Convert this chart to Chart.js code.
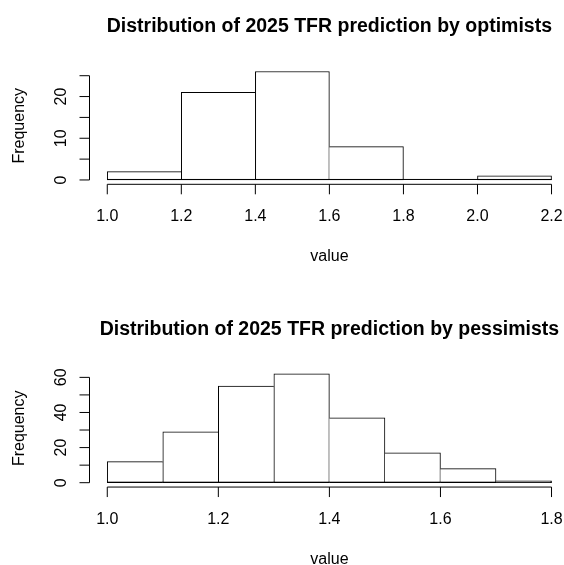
<!DOCTYPE html>
<html>
<head>
<meta charset="utf-8">
<script src="https://cdn.jsdelivr.net/npm/chart.js@4"></script>
<style>
  body { margin: 0; background: #fff; }
  canvas { display: block; }
</style>
</head>
<body>
<canvas id="optimists" width="564" height="282"></canvas>
<canvas id="pessimists" width="564" height="283"></canvas>
<script>
// optimists: bin edges + counts
const optBreaks = [1.0, 1.2, 1.4, 1.6, 1.8, 2.0, 2.2];
const optCounts = [2, 21, 26, 8, 0, 1];
const optXTicks = [1.0, 1.2, 1.4, 1.6, 1.8, 2.0, 2.2];
const optYTicks = [0, 5, 10, 15, 20, 25];
const optYLabels = [0, 10, 20];

// pessimists
const pesBreaks = [1.0, 1.1, 1.2, 1.3, 1.4, 1.5, 1.6, 1.7, 1.8];
const pesCounts = [12, 29, 55, 62, 37, 17, 8, 1];
const pesXTicks = [1.0, 1.2, 1.4, 1.6, 1.8];
const pesYTicks = [0, 10, 20, 30, 40, 50, 60];
const pesYLabels = [0, 20, 40, 60];

const FONT = '"Liberation Sans", Arial, Helvetica, sans-serif';

// R style axes, drawn from the chart's own scales
const rAxes = {
  id: 'rAxes',
  afterDatasetsDraw(chart, args, o) {
    const ctx = chart.ctx, xs = chart.scales.x, ys = chart.scales.y, area = chart.chartArea;
    const px = v => xs.getPixelForValue(v), py = v => ys.getPixelForValue(v);
    const first = o.breaks[0], last = o.breaks[o.breaks.length - 1];
    const midX = (px(o.usr[0]) + px(o.usr[1])) / 2;
    ctx.save();
    ctx.fillStyle = '#000';
    ctx.strokeStyle = '#000';
    ctx.lineWidth = 1;

    // baseline under the bars (zero bins too)
    ctx.fillRect(px(first), py(0) - 1, px(last) - px(first), 1);

    // x axis
    const ax = area.bottom;
    ctx.beginPath();
    ctx.moveTo(px(o.xTicks[0]), ax);
    ctx.lineTo(px(o.xTicks[o.xTicks.length - 1]), ax);
    o.xTicks.forEach(t => { ctx.moveTo(px(t), ax); ctx.lineTo(px(t), ax + 10); });
    // y axis
    const ay = area.left;
    ctx.moveTo(ay, py(o.yTicks[0]));
    ctx.lineTo(ay, py(o.yTicks[o.yTicks.length - 1]));
    o.yTicks.forEach(t => { ctx.moveTo(ay, py(t)); ctx.lineTo(ay - 10, py(t)); });
    ctx.stroke();

    ctx.font = '16px ' + FONT;
    ctx.textAlign = 'center';
    ctx.textBaseline = 'alphabetic';
    o.xTicks.forEach(t => ctx.fillText(t.toFixed(1), px(t), ax + 36.5));
    ctx.fillText('value', midX, ax + 76.7);

    o.yLabels.forEach(t => {
      ctx.save();
      ctx.translate(ay - 23.5, py(t));
      ctx.rotate(-Math.PI / 2);
      ctx.fillText(String(t), 0, 0);
      ctx.restore();
    });
    ctx.save();
    ctx.translate(ay - 65.5, (area.top + area.bottom) / 2);
    ctx.rotate(-Math.PI / 2);
    ctx.fillText('Frequency', 0, 0);
    ctx.restore();

    ctx.font = 'bold 19.5px ' + FONT;
    ctx.fillText(o.title, midX, area.top - 35);
    ctx.restore();
  }
};

function makeHist(id, title, breaks, counts, xTicks, yTicks, yLabels, pad) {
  const centers = counts.map((_, i) => (breaks[i] + breaks[i + 1]) / 2);
  const lo = breaks[0], hi = breaks[breaks.length - 1];
  // R usr range: data range widened by 4% each side
  const usr = [lo - 0.04 * (hi - lo), hi + 0.04 * (hi - lo)];
  const ymax = Math.max(...counts);
  // plot region in R runs past the right edge of the picture
  const regionW = 479.8;
  const canvas = document.getElementById(id);
  const xmax = usr[0] + (canvas.width - pad.left) / regionW * (usr[1] - usr[0]);

  return new Chart(canvas, {
    type: 'bar',
    data: {
      datasets: [{
        data: centers.map((c, i) => ({ x: c, y: counts[i] })),
        backgroundColor: '#ffffff',
        borderColor: '#000000',
        borderWidth: 1,
        // shared edge is drawn by the taller neighbour only
        borderSkipped: c => {
          const i = c.dataIndex, v = counts[i];
          if (i > 0 && counts[i - 1] >= v) return 'left';
          if (i < counts.length - 1 && counts[i + 1] > v) return 'right';
          return false;
        },
        barPercentage: 1,
        categoryPercentage: 1
      }]
    },
    options: {
      responsive: false,
      animation: false,
      layout: { padding: pad },
      plugins: {
        legend: { display: false },
        tooltip: { enabled: false },
        rAxes: { title, breaks, xTicks, yTicks, yLabels, usr }
      },
      scales: {
        x: { type: 'linear', min: usr[0], max: xmax, offset: false, display: false },
        y: { min: -0.04 * ymax, max: 1.04 * ymax, display: false }
      }
    },
    plugins: [rAxes]
  });
}

makeHist('optimists', 'Distribution of 2025 TFR prediction by optimists',
  optBreaks, optCounts, optXTicks, optYTicks, optYLabels,
  { left: 89.5, right: 0, top: 67.2, bottom: 97.7 });

makeHist('pessimists', 'Distribution of 2025 TFR prediction by pessimists',
  pesBreaks, pesCounts, pesXTicks, pesYTicks, pesYLabels,
  { left: 89.5, right: 0, top: 87.5, bottom: 77.95 });
</script>
</body>
</html>
